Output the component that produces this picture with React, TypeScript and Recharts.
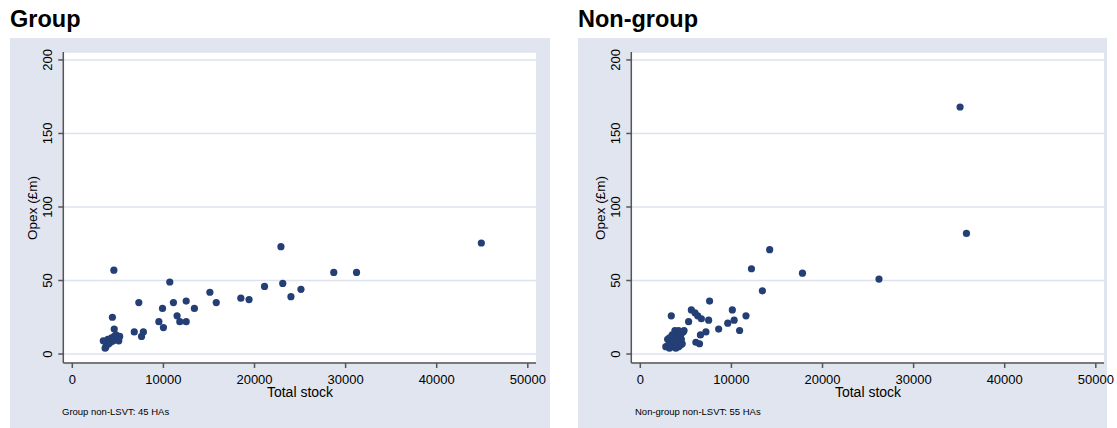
import React from "react";
import { ScatterChart, Scatter, XAxis, YAxis, CartesianGrid } from "recharts";

// tick labels
const xTicks = [0, 10000, 20000, 30000, 40000, 50000];
const yTicks = [0, 50, 100, 150, 200];

// Group non-LSVT (45 HAs)
const groupStock = [
  4560, 10700, 7300, 4400, 4600, 9900, 11100, 12500, 13400, 15100, 15800, 18500,
  19400, 21100, 22900, 23100, 24000, 25100, 11500, 11800, 12500, 9500, 10000, 6800,
  7600, 7800, 44900, 28700, 31200,
  3400, 3600, 3700, 3800, 3900, 4000, 4100, 4200, 4300, 4500, 4600, 4700, 4800, 5000, 5100, 5200,
];
const groupOpex = [
  57, 49, 35, 25, 17, 31, 35, 36, 31, 42, 35, 38,
  37, 46, 73, 48, 39, 44, 26, 22, 22, 22, 18, 15,
  12, 15, 75.5, 55.5, 55.5,
  9, 4, 5, 8, 10, 7, 9, 8, 11, 9, 12, 10, 13, 11, 9, 12,
];

// Non-group non-LSVT (55 HAs)
const nonGroupStock = [
  14200, 12200, 17800, 26200, 13400, 7600, 3400, 5600, 6000, 6300, 6700, 5300,
  7500, 10100, 10300, 9600, 11600, 8600, 10900, 7200, 6600, 6500, 6100, 4800,
  4500, 3800, 4200, 35100, 35800,
  2800, 3000, 3100, 3200, 3300, 3400, 3500, 3600, 3700, 3700, 3800, 3900, 4000,
  4000, 4100, 4200, 4200, 4300, 4400, 4400, 4500, 4600, 3500, 3900, 4700, 3200,
];
const nonGroupOpex = [
  71, 58, 55, 51, 43, 36, 26, 30, 28, 26, 24, 22,
  23, 30, 23, 21, 26, 17, 16, 15, 13, 7, 8, 16,
  14, 16, 16, 168, 82,
  5, 10, 6, 4, 8, 11, 6, 9, 12, 5, 7, 10, 13,
  6, 8, 11, 5, 9, 12, 6, 10, 7, 13, 4, 15, 11,
];

const BG = "#e1e5ef";
const GRID = "#dde3ee";
const AXIS = "#555";
const DOT = "#233f76";
const FONT = "'Liberation Sans', Arial, sans-serif";

const YTick = (props: any) => {
  const { x, y, payload } = props;
  const bx = x - 4;
  return (
    <text x={bx} y={y} transform={`rotate(-90 ${bx} ${y})`} textAnchor="middle" fontSize={13} fill="#000" fontFamily={FONT}>
      {payload.value}
    </text>
  );
};

const Dot = (p: any) => <circle cx={p.cx} cy={p.cy} r={3.6} fill={DOT} />;

function Panel({ stock, opex, left, bgWidth, title, note, noteX }: any) {
  const data = stock.map((s: number, i: number) => ({ x: s, y: opex[i] }));
  return (
    <div style={{ position: "absolute", left, top: 0, width: 560, height: 428 }}>
      <div style={{ position: "absolute", left: 10, top: 37.5, width: bgWidth, height: 390.5, background: BG }} />
      <div style={{ position: "absolute", left: 0, top: 0 }}>
        <ScatterChart width={560} height={428} margin={{ top: 52, right: 24, bottom: 0, left: 0 }} style={{ fontFamily: FONT }}>
          <CartesianGrid vertical={false} fill="#fff" stroke={GRID} strokeWidth={1.5} />
          <XAxis
            type="number"
            dataKey="x"
            domain={[-990, 50900]}
            ticks={xTicks}
            allowDataOverflow
            height={65}
            tickSize={5}
            tickMargin={7}
            stroke={AXIS}
            strokeWidth={1.5}
            tick={{ fill: "#000", fontSize: 13 }}
            label={() => (
              <text x={300} y={397} textAnchor="middle" fontSize={14} fill="#000" fontFamily={FONT}>
                Total stock
              </text>
            )}
          />
          <YAxis
            type="number"
            dataKey="y"
            domain={[-6.1, 205.4]}
            ticks={yTicks}
            allowDataOverflow
            width={63.3}
            tickSize={5}
            tickMargin={2}
            stroke={AXIS}
            strokeWidth={1.5}
            tick={<YTick />}
            label={() => (
              <text x={37} y={208} transform="rotate(-90 37 208)" textAnchor="middle" fontSize={13.5} fill="#000" fontFamily={FONT}>
                Opex (£m)
              </text>
            )}
          />
          <Scatter data={data} fill={DOT} shape={<Dot />} isAnimationActive={false} />
        </ScatterChart>
      </div>
      <svg width={560} height={428} style={{ position: "absolute", left: 0, top: 0, pointerEvents: "none" }}>
        <text x={10} y={27} fontSize={23.5} fontWeight="bold" fill="#000" fontFamily={FONT}>
          {title}
        </text>
        <text x={noteX} y={415} fontSize={9.5} fill="#000" fontFamily={FONT}>
          {note}
        </text>
      </svg>
    </div>
  );
}

export default function App() {
  return (
    <div style={{ position: "absolute", left: 0, top: 0, width: 1117, height: 428, background: "#fff", overflow: "hidden" }}>
      <Panel stock={groupStock} opex={groupOpex} left={0} bgWidth={540} title="Group" note="Group non-LSVT: 45 HAs" noteX={62} />
      <Panel stock={nonGroupStock} opex={nonGroupOpex} left={568} bgWidth={529} title="Non-group" note="Non-group non-LSVT: 55 HAs" noteX={67} />
    </div>
  );
}
